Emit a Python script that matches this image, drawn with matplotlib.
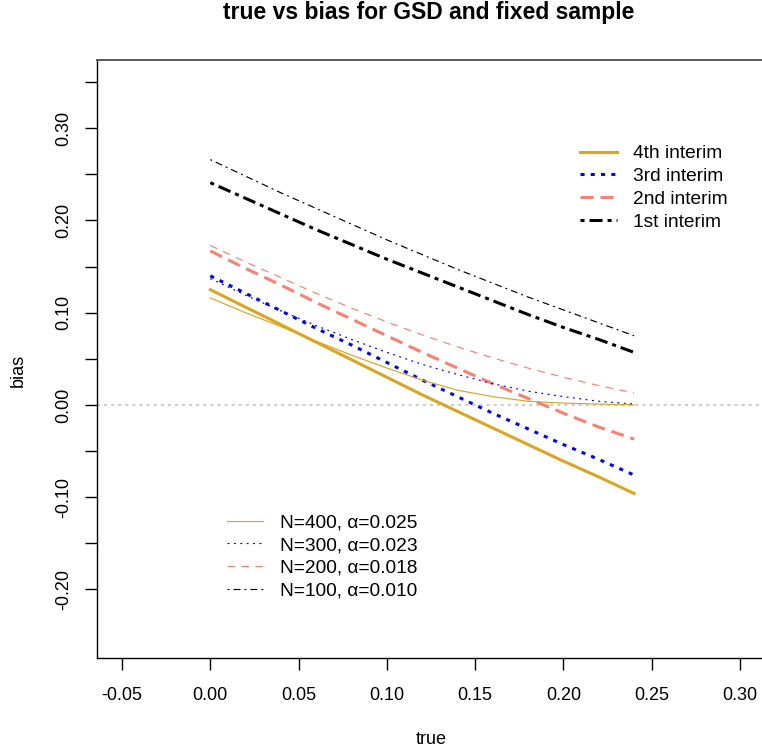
import matplotlib
matplotlib.use("Agg")
import matplotlib.pyplot as plt

plt.rcParams["font.family"] = ["Liberation Sans", "DejaVu Sans"]
plt.rcParams["lines.scale_dashes"] = False

# ---------------- data ----------------
true_vals = [0.00, 0.02, 0.04, 0.06, 0.08, 0.10, 0.12, 0.14, 0.16, 0.18, 0.20, 0.22, 0.24]

# GSD (thick lines)
gsd_4th = [0.125, 0.106, 0.087, 0.068, 0.049, 0.030, 0.011, -0.007, -0.025, -0.043, -0.061, -0.078, -0.096]
gsd_3rd = [0.140, 0.121, 0.102, 0.083, 0.065, 0.046, 0.027, 0.009, -0.009, -0.026, -0.043, -0.059, -0.076]
gsd_2nd = [0.167, 0.148, 0.130, 0.111, 0.093, 0.075, 0.057, 0.040, 0.023, 0.007, -0.009, -0.024, -0.037]
gsd_1st = [0.241, 0.224, 0.207, 0.190, 0.174, 0.158, 0.143, 0.128, 0.113, 0.098, 0.084, 0.071, 0.057]

# fixed sample (thin lines)
fix_400 = [0.116, 0.100, 0.085, 0.069, 0.054, 0.040, 0.027, 0.016, 0.009, 0.004, 0.002, 0.001, 0.000]
fix_300 = [0.137, 0.119, 0.102, 0.086, 0.071, 0.057, 0.044, 0.033, 0.023, 0.015, 0.009, 0.004, 0.001]
fix_200 = [0.173, 0.155, 0.138, 0.121, 0.105, 0.090, 0.076, 0.063, 0.051, 0.040, 0.030, 0.021, 0.013]
fix_100 = [0.266, 0.248, 0.230, 0.213, 0.196, 0.179, 0.163, 0.147, 0.132, 0.117, 0.103, 0.089, 0.075]

gsd_labels = ["4th interim", "3rd interim", "2nd interim", "1st interim"]
fix_labels = ["N=400, α=0.025", "N=300, α=0.023", "N=200, α=0.018", "N=100, α=0.010"]

xticks = [-0.05, 0.00, 0.05, 0.10, 0.15, 0.20, 0.25, 0.30]
xtick_labels = ["-0.05", "0.00", "0.05", "0.10", "0.15", "0.20", "0.25", "0.30"]
yticks_major = [-0.20, -0.10, 0.00, 0.10, 0.20, 0.30]
ytick_labels = ["-0.20", "-0.10", "0.00", "0.10", "0.20", "0.30"]
yticks_minor = [-0.15, -0.05, 0.05, 0.15, 0.25, 0.35]

title = "true vs bias for GSD and fixed sample"

# ---------------- styles ----------------
GOLD = "#DAA520"
BLUE = "#0000FF"
SALMON = "#FA8072"
BLACK = "#000000"
THICK = 2.2
THIN = 0.85
LEGFS = 13.8

fig = plt.figure(figsize=(7.62, 7.55), dpi=100)
W, H = 762, 755
left, right, top, bottom = 97.3, 764.8, 60.0, 657.7
ax = fig.add_axes([left / W, 1 - bottom / H, (right - left) / W, (bottom - top) / H])

ax.axhline(0, color="#BEBEBE", lw=1.1, linestyle=(0, (2.2, 2.9)), zorder=1)

g_series = [gsd_4th, gsd_3rd, gsd_2nd, gsd_1st]
g_styles = [
    dict(color=GOLD, linestyle="-"),
    dict(color=BLUE, linestyle=(0, (2.9, 4.5))),
    dict(color=SALMON, linestyle=(0, (9.4, 5.0))),
    dict(color=BLACK, linestyle=(0, (2.9, 3.6, 9.4, 3.6))),
]
f_series = [fix_400, fix_300, fix_200, fix_100]
f_styles = [
    dict(color=GOLD, linestyle="-"),
    dict(color=BLUE, linestyle=(0, (1.4, 3.2))),
    dict(color=SALMON, linestyle=(0, (5.4, 4.7))),
    dict(color=BLACK, linestyle=(0, (1.4, 2.9, 5.0, 2.9))),
]

g_handles = []
for ys, st, lab in zip(g_series, g_styles, gsd_labels):
    h, = ax.plot(true_vals, ys, lw=THICK, label=lab, zorder=3, **st)
    g_handles.append(h)
f_handles = []
for ys, st, lab in zip(f_series, f_styles, fix_labels):
    h, = ax.plot(true_vals, ys, lw=THIN, label=lab, zorder=3, **st)
    f_handles.append(h)

ax.set_xlim(-0.064, 0.314)
ax.set_ylim(-0.274, 0.374)

ax.set_xticks(xticks)
ax.set_xticklabels(xtick_labels)
ax.set_yticks(yticks_major)
ax.set_yticklabels(ytick_labels, rotation=90, va="center")
ax.set_yticks(yticks_minor, minor=True)

ax.tick_params(axis="both", which="both", length=8.4, width=1.0, direction="out",
               labelsize=13, color="black")
ax.tick_params(axis="x", pad=12.5)
ax.tick_params(axis="y", pad=9.5)

for s in ["left", "bottom"]:
    ax.spines[s].set_linewidth(1.0)
    ax.spines[s].set_color("black")
ax.spines["top"].set_linewidth(1.4)
ax.spines["top"].set_color("#5A5A5A")
ax.spines["right"].set_visible(False)

ax.set_xlabel("true", fontsize=13, va="center")
ax.xaxis.set_label_coords(0.5, -(740 - bottom) / (bottom - top))
ax.set_ylabel("bias", fontsize=13, va="center")
ax.yaxis.set_label_coords((18 - left) / (right - left), 0.5 - (370 - (top + bottom) / 2) / (bottom - top))

fig.text(429 / W, 1 - 13 / H, title, ha="center", va="center",
         fontsize=16.5, fontweight="bold")

leg1 = ax.legend(handles=g_handles, loc="upper left",
                 bbox_to_anchor=(580 / W, 1 - 145 / H), bbox_transform=fig.transFigure,
                 frameon=False, borderpad=0, borderaxespad=0, fontsize=LEGFS,
                 handlelength=1.93, handletextpad=0.83, labelspacing=0.28)
ax.add_artist(leg1)
leg2 = ax.legend(handles=f_handles, loc="upper left",
                 bbox_to_anchor=(227 / W, 1 - 514 / H), bbox_transform=fig.transFigure,
                 frameon=False, borderpad=0, borderaxespad=0, fontsize=LEGFS,
                 handlelength=1.88, handletextpad=0.89, labelspacing=0.28)

fig.savefig("out.png", dpi=100)
